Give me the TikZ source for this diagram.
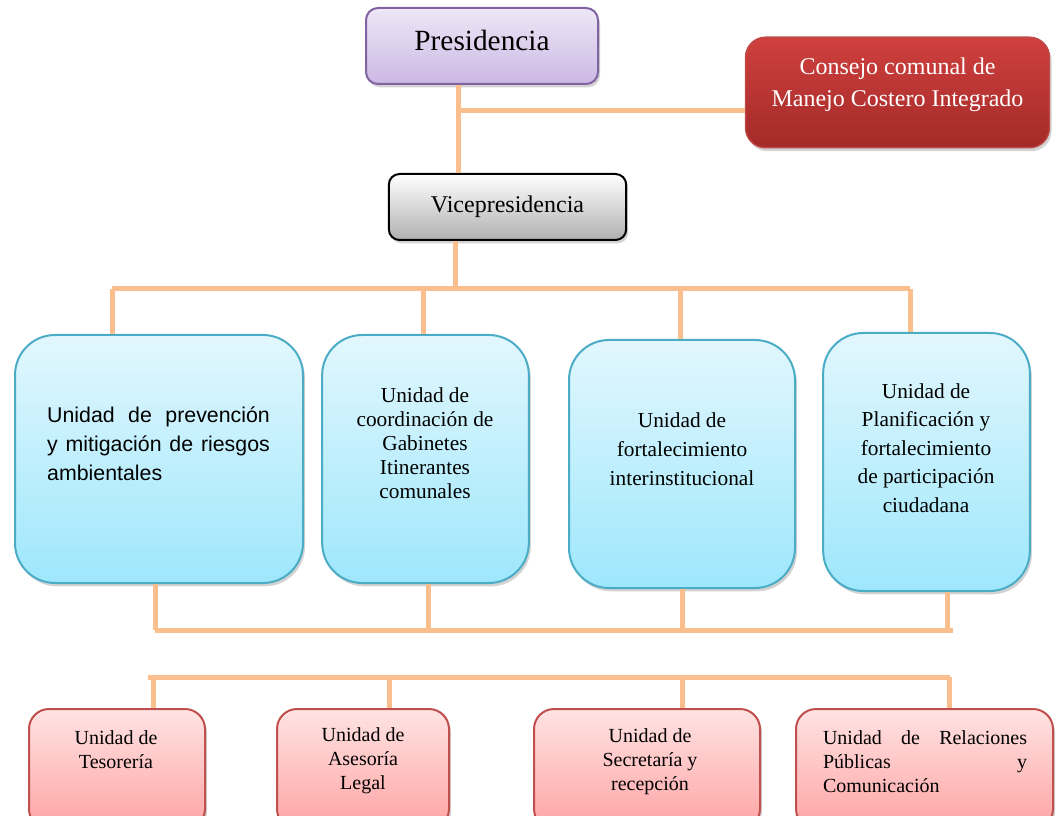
\documentclass[tikz,border=0pt]{standalone}
\usepackage{fontspec}
\setmainfont{Liberation Serif}
\newfontfamily\arialfont{Liberation Sans}
\usetikzlibrary{shadows}
\definecolor{linkorange}{RGB}{251,191,141}
\definecolor{prestop}{RGB}{238,231,246}
\definecolor{presbot}{RGB}{203,184,228}
\definecolor{presline}{RGB}{128,100,162}
\definecolor{contop}{RGB}{207,64,62}
\definecolor{conbot}{RGB}{163,42,40}
\definecolor{conline}{RGB}{190,75,72}
\definecolor{vicebot}{RGB}{176,176,176}
\definecolor{unittop}{RGB}{226,247,253}
\definecolor{unitbot}{RGB}{158,231,252}
\definecolor{unitline}{RGB}{75,172,198}
\definecolor{subtop}{RGB}{255,227,227}
\definecolor{subbot}{RGB}{255,164,164}
\definecolor{subline}{RGB}{192,80,77}
\def\fs#1#2{\fontsize{#1}{#2}\selectfont}

\begin{document}
\begin{tikzpicture}[x=0.75pt,y=-0.75pt,
  link/.style={draw=linkorange,line width=3.75pt},
  boxshadow/.style={drop shadow={shadow xshift=1.5pt,shadow yshift=-2.5pt,opacity=0.35}},
  presbox/.style={draw=presline,line width=1.5pt,rounded corners=9pt,top color=prestop,bottom color=presbot,boxshadow,minimum width=174pt,minimum height=57pt,text depth=9pt,font=\fs{22}{26}},
  conbox/.style={draw=conline,line width=1pt,rounded corners=15pt,top color=contop,bottom color=conbot,boxshadow,minimum width=228pt,minimum height=83pt},
  vicebox/.style={draw=black,line width=1.5pt,rounded corners=8pt,top color=white,bottom color=vicebot,boxshadow,minimum width=178pt,minimum height=49.5pt,font=\fs{18}{22}},
  unitbox/.style={draw=unitline,line width=1.5pt,rounded corners=30pt,top color=unittop,bottom color=unitbot,boxshadow,minimum height=186pt},
  subbox/.style={draw=subline,line width=1.5pt,rounded corners=15pt,top color=subtop,bottom color=subbot,boxshadow,minimum height=90pt},
  boxtext/.style={inner sep=0pt,align=center}
]
\useasboundingbox (0,0) rectangle (1056,816);
\clip (0,0) rectangle (1056,816);
%
\node[presbox] (pres) at (482,46) {Presidencia};
\node[conbox] (consejo) at (897.5,92.5) {};
\node[boxtext,text=white,font=\fs{18}{24}] (consejot) at (897.5,85)
  {Consejo comunal de\\Manejo Costero Integrado};
\node[vicebox] (vice) at (507.5,207) {Vicepresidencia};
%
\node[unitbox,minimum width=216pt] (u1) at (159,459) {};
\node[unitbox,minimum width=155pt] (u2) at (425.5,459) {};
\node[unitbox,minimum width=169.5pt] (u3) at (682,464) {};
\node[unitbox,minimum width=155pt,minimum height=193.5pt] (u4) at (926.5,462) {};
\node[boxtext,align=justify,text width=167pt,font=\arialfont\fs{16}{21.75}] (u1t) at (158.5,444)
  {Unidad de prevención\linebreak y mitigación de riesgos\linebreak ambientales};
\node[boxtext,font=\fs{16}{18}] (u2t) at (425,443)
  {Unidad de\\coordinación de\\Gabinetes\\Itinerantes\\comunales};
\node[boxtext,font=\fs{16}{21.75}] (u3t) at (682,449)
  {Unidad de\\fortalecimiento\\interinstitucional};
\node[boxtext,font=\fs{16}{21.4}] (u4t) at (926,448)
  {Unidad de\\Planificación y\\fortalecimiento\\de participación\\ciudadana};
%
\node[subbox,minimum width=132pt] (b1) at (117,769) {};
\node[subbox,minimum width=129pt] (b2) at (363,769) {};
\node[subbox,minimum width=169.5pt] (b3) at (647,769) {};
\node[subbox,minimum width=192.75pt] (b4) at (924.5,769) {};
\node[boxtext,font=\fs{15}{18}] (b1t) at (116,750) {Unidad de\\Tesorería};
\node[boxtext,font=\fs{15}{18}] (b2t) at (363,761) {Unidad de\\Asesoría\\Legal};
\node[boxtext,font=\fs{15}{18}] (b3t) at (650,762) {Unidad de\\Secretaría y\\recepción};
\node[boxtext,align=justify,text width=153pt,font=\fs{15}{18}] (b4t) at (925,761.5)
  {Unidad de Relaciones\linebreak Públicas y\linebreak Comunicación};
%
% top links
\coordinate (jp) at (458,111);
\draw[link] (pres.south -| jp) -- (vice.north -| jp);
\draw[link] (jp) -- (consejo.west |- jp);
\coordinate (jt) at (455,289);
\coordinate (tl) at (112,289);
\coordinate (tr) at (910,289);
\draw[link] (vice.south -| jt) -- (jt);
\draw[link] (tl) -- (tr);
\foreach \n/\x in {u1/112,u2/423,u3/680,u4/910}{
  \coordinate (\n top) at (\x,289);
  \draw[link] (\n top) -- (\n top |- \n.north);
}
%
% middle links
\coordinate (ml) at (155,630);
\coordinate (mr) at (953,630);
\draw[link] (ml) -- (mr);
\foreach \n/\x in {u1/155,u2/428,u3/682,u4/947}{
  \coordinate (\n low) at (\x,630);
  \draw[link] (\n.south -| \n low) -- (\n low);
}
%
% bottom links
\coordinate (ll) at (148,677);
\coordinate (lr) at (950,677);
\draw[link] (ll) -- (lr);
\foreach \n/\x in {b1/153,b2/389,b3/682,b4/949}{
  \coordinate (\n up) at (\x,677);
  \draw[link] (\n up) -- (\n up |- \n.north);
}
\end{tikzpicture}
\end{document}
